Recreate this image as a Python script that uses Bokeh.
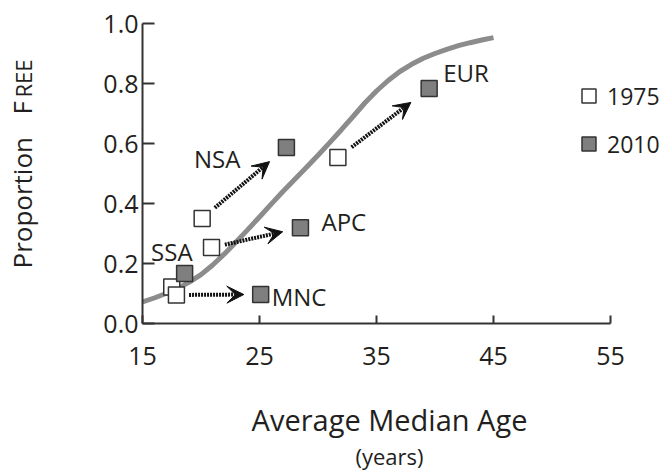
import math
from bokeh.plotting import figure
from bokeh.layouts import row, column
from bokeh.models import (Range1d, FixedTicker, PrintfTickFormatter, Arrow, VeeHead,
                          ColumnDataSource, Legend, LegendItem)
from bokeh.core.properties import value
from bokeh.embed import file_html
from bokeh.resources import INLINE

# ---------------- data ----------------
regions = ["NSA", "SSA", "APC", "MNC", "EUR"]
age_1975 = [20.1, 17.5, 20.9, 17.9, 31.7]
free_1975 = [0.350, 0.122, 0.253, 0.095, 0.553]
age_2010 = [27.3, 18.6, 28.5, 25.1, 39.5]
free_2010 = [0.587, 0.167, 0.319, 0.097, 0.783]
arrow_regions = ["NSA", "APC", "MNC", "EUR"]

curve_age = [15, 16, 17, 18, 19, 20, 21, 22, 23, 24, 25, 26, 27, 28, 29, 30,
             31, 32, 33, 34, 35, 36, 37, 38, 39, 40, 41, 42, 43, 44, 45]
curve_free = [0.072, 0.085, 0.100, 0.117, 0.138, 0.163, 0.195, 0.232, 0.272,
              0.313, 0.355, 0.398, 0.440, 0.480, 0.520, 0.561, 0.603, 0.646,
              0.690, 0.735, 0.775, 0.810, 0.840, 0.864, 0.884, 0.900, 0.914,
              0.926, 0.936, 0.945, 0.953]

x_ticks = [15, 25, 35, 45, 55]
y_ticks = [0.0, 0.2, 0.4, 0.6, 0.8, 1.0]
legend_labels = ["1975", "2010"]
x_title = "Average Median Age"
x_subtitle = "(years)"

# ---------------- style / layout ----------------
FONT = "Open Sans"
TXT = "#231f20"
AX = "#333333"
TOTAL_W, TOTAL_H = 663, 471
YLAB_W = 40                 # left strip holding the y-axis title
MAIN_H = 385                # main plot; x-axis title strip below it
W = TOTAL_W - YLAB_W
B_LEFT, B_TOP, B_RIGHT = 142 - YLAB_W, 23, 0
FRAME_H = 300
B_BOTTOM = MAIN_H - B_TOP - FRAME_H
FRAME_LEFT = YLAB_W + B_LEFT
PX_PER_YEAR = 11.7
frame_w = W - B_LEFT - B_RIGHT
x_end = x_ticks[0] + frame_w / PX_PER_YEAR

p = figure(width=W, height=MAIN_H, output_backend="svg", toolbar_location=None,
           x_range=Range1d(x_ticks[0], x_end), y_range=Range1d(y_ticks[0], y_ticks[-1]),
           min_border_left=B_LEFT, min_border_right=B_RIGHT,
           min_border_top=B_TOP, min_border_bottom=B_BOTTOM)
p.outline_line_color = None
p.xgrid.visible = False
p.ygrid.visible = False

for ax in (p.xaxis[0], p.yaxis[0]):
    ax.axis_line_color = AX
    ax.axis_line_width = 2
    ax.major_tick_line_color = AX
    ax.major_tick_line_width = 2
    ax.major_tick_out = 0
    ax.minor_tick_line_color = None
    ax.major_label_text_font = FONT
    ax.major_label_text_font_size = "25px"
    ax.major_label_text_color = TXT

p.xaxis.ticker = FixedTicker(ticks=x_ticks)
p.xaxis.bounds = (x_ticks[0], x_ticks[-1])
p.xaxis.major_tick_in = 8
p.xaxis.major_label_standoff = 23

p.yaxis.ticker = FixedTicker(ticks=y_ticks)
p.yaxis.formatter = PrintfTickFormatter(format="%.1f")
p.yaxis.major_tick_in = 12
p.yaxis.major_label_standoff = 4

# fitted curve
p.line(curve_age, curve_free, line_color="#8c8c8c", line_width=5)

# arrows from 1975 to 2010
t0, t1 = 0.15, 0.80
xs, ys, xe, ye = [], [], [], []
for r in arrow_regions:
    i = regions.index(r)
    dx = age_2010[i] - age_1975[i]
    dy = free_2010[i] - free_1975[i]
    xs.append(age_1975[i] + t0 * dx)
    ys.append(free_1975[i] + t0 * dy)
    xe.append(age_1975[i] + t1 * dx)
    ye.append(free_1975[i] + t1 * dy)
arrow_src = ColumnDataSource(dict(x_start=xs, y_start=ys, x_end=xe, y_end=ye))
p.add_layout(Arrow(source=arrow_src, x_start="x_start", y_start="y_start",
                   x_end="x_end", y_end="y_end",
                   line_color="#111111", line_width=4, line_dash="2 1",
                   end=VeeHead(size=17, fill_color="#111111", line_color="#111111",
                               line_width=1)))

# points
r75 = p.scatter(age_1975, free_1975, marker="square", size=16,
                fill_color="white", line_color=AX, line_width=1.5)
r10 = p.scatter(age_2010, free_2010, marker="square", size=16,
                fill_color="#7f7f7f", line_color=AX, line_width=1.5)

# region labels (anchored to 2010 points)
label_style = {
    "NSA": ("right", -46, 11),
    "SSA": ("right", 8, -22),
    "APC": ("left", 21, -6),
    "MNC": ("left", 11, 2),
    "EUR": ("left", 14, -16),
}
for align in ("left", "right"):
    sel = [i for i, r in enumerate(regions) if label_style[r][0] == align]
    src = ColumnDataSource(dict(
        x=[age_2010[i] for i in sel], y=[free_2010[i] for i in sel],
        t=[regions[i] for i in sel],
        xo=[label_style[regions[i]][1] for i in sel],
        yo=[label_style[regions[i]][2] for i in sel]))
    p.text(x="x", y="y", text="t", source=src, x_offset="xo", y_offset="yo",
           text_align=align, text_baseline="middle",
           text_font=value(FONT), text_font_size="24px", text_color=TXT)

# legend
legend = Legend(items=[LegendItem(label=value(legend_labels[0]), renderers=[r75]),
                       LegendItem(label=value(legend_labels[1]), renderers=[r10])],
                location=(429, 162), glyph_width=35, glyph_height=35,
                spacing=13, padding=0, margin=0, label_standoff=1,
                label_text_font=FONT, label_text_font_size="23px",
                label_text_color=TXT, border_line_color=None,
                background_fill_alpha=0)
p.add_layout(legend, "center")


def strip(width, height, x_rng, y_rng):
    """blank figure whose data units are page pixels (holds the axis titles)"""
    f = figure(width=width, height=height, output_backend="svg", toolbar_location=None,
               x_range=Range1d(*x_rng), y_range=Range1d(*y_rng),
               x_axis_location=None, y_axis_location=None,
               min_border_left=0, min_border_right=0, min_border_top=0,
               min_border_bottom=0)
    f.outline_line_color = None
    f.xgrid.visible = False
    f.ygrid.visible = False
    return f


# x-axis title strip: its frame is aligned with the main frame horizontally
xlab = strip(W, TOTAL_H - MAIN_H, (FRAME_LEFT, TOTAL_W), (TOTAL_H, MAIN_H))
xlab.text(x=[389], y=[419], text=[x_title], text_align="center",
          text_baseline="middle", text_font=value(FONT), text_font_size="29px",
          text_color=TXT)
xlab.text(x=[389], y=[455], text=[x_subtitle], text_align="center",
          text_baseline="middle", text_font=value(FONT), text_font_size="22px",
          text_color=TXT)

# y-axis title strip: "Proportion  FREE" (small caps REE)
ylab = strip(YLAB_W, TOTAL_H, (0, YLAB_W), (TOTAL_H, 0))
ylab.text(x=[21], y=[268], text=["Proportion"], angle=math.pi / 2,
          text_align="left", text_baseline="middle", text_font=value(FONT),
          text_font_size="26px", text_color=TXT)
ylab.text(x=[21], y=[114], text=["F"], angle=math.pi / 2,
          text_align="left", text_baseline="middle", text_font=value(FONT),
          text_font_size="26px", text_color=TXT)
ylab.text(x=[22.5], y=[97], text=["REE"], angle=math.pi / 2,
          text_align="left", text_baseline="middle", text_font=value(FONT),
          text_font_size="22px", text_color=TXT)

layout = row(ylab, column(p, xlab, spacing=0), spacing=0)
open("out.html", "w").write(file_html(layout, INLINE))
